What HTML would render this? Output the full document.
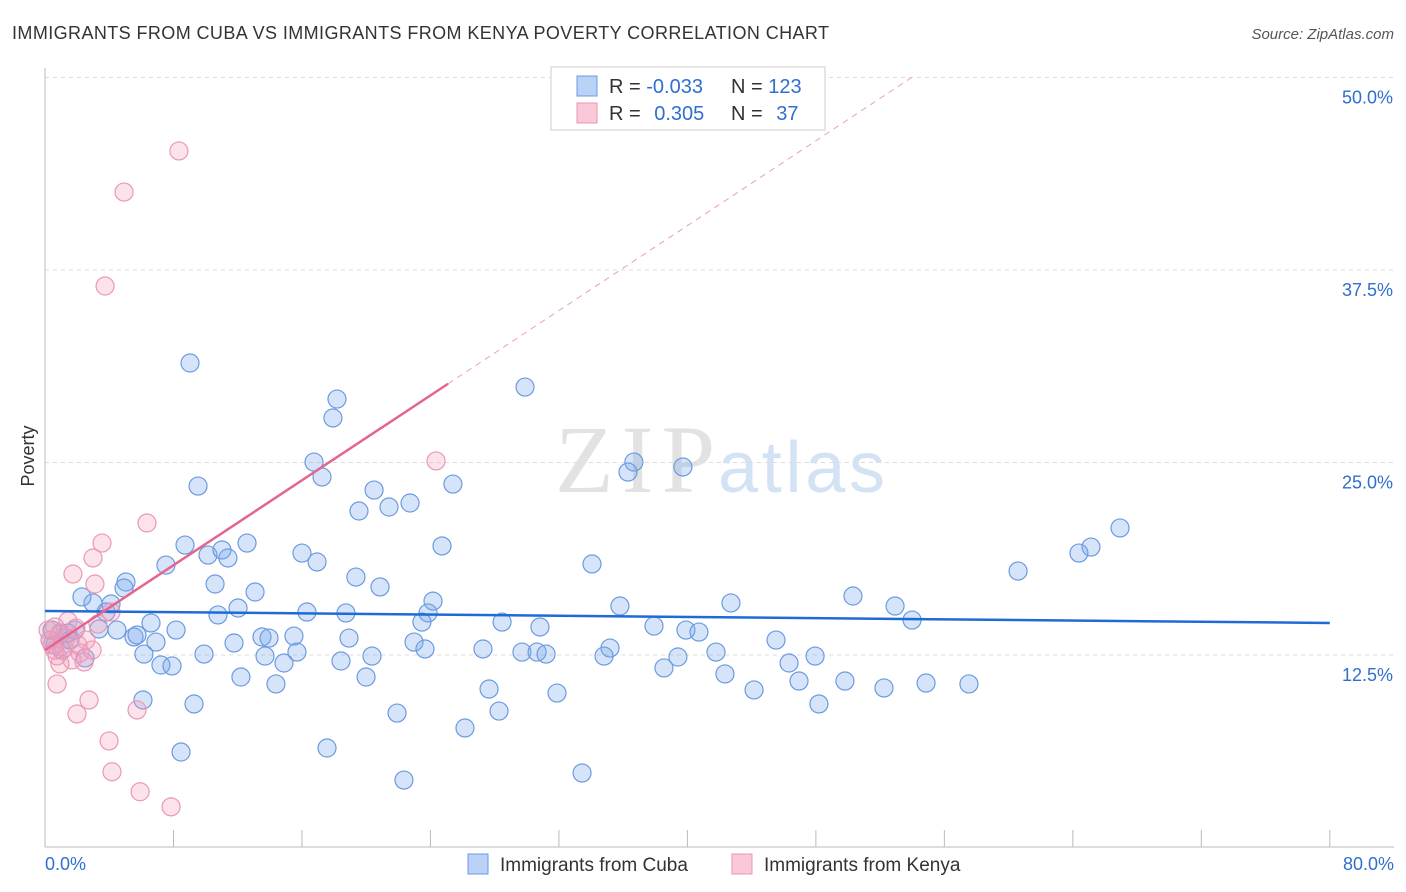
<!DOCTYPE html>
<html><head><meta charset="utf-8"><style>
body{margin:0;background:#fff;font-family:"Liberation Sans",sans-serif;}
svg{display:block}
</style></head><body>
<svg id="c" width="1406" height="892">
<text x="12" y="39" font-size="18" fill="#333" textLength="817">IMMIGRANTS FROM CUBA VS IMMIGRANTS FROM KENYA POVERTY CORRELATION CHART</text>
<text x="1394" y="39" font-size="15" fill="#555" font-style="italic" text-anchor="end">Source: ZipAtlas.com</text>
<text x="555" y="492" font-size="96" font-family="Liberation Serif,serif" fill="#e2e2e2" textLength="160">ZIP</text>
<text x="718" y="492" font-size="72" fill="#d3e2f4" textLength="167">atlas</text>
<g id="grid"></g><g id="axes"></g><g id="pts"></g><g id="lines"></g>
<text x="34" y="456" font-size="18" fill="#333" transform="rotate(-90 34 456)" text-anchor="middle">Poverty</text>
<g>
<rect x="551" y="67" width="274" height="63" fill="#fff" stroke="#ccc"/>
<rect x="577" y="76" width="20" height="20" fill="#b9d2f5" stroke="#6a9be0"/>
<rect x="577" y="103" width="20" height="20" fill="#f9c9d8" stroke="#ec94b0"/>
<text x="609" y="93" font-size="20" fill="#333">R = <tspan fill="#2e6fd0">-0.033</tspan></text>
<text x="731" y="93" font-size="20" fill="#333">N = <tspan fill="#2e6fd0">123</tspan></text>
<text x="609" y="120" font-size="20" fill="#333">R = <tspan fill="#2e6fd0" dx="8">0.305</tspan></text>
<text x="731" y="120" font-size="20" fill="#333">N = <tspan fill="#2e6fd0" dx="8">37</tspan></text>
</g>
<g>
<rect x="468" y="854" width="20" height="20" fill="#b9d2f5" stroke="#6a9be0"/>
<text x="500" y="871" font-size="19" fill="#333">Immigrants from Cuba</text>
<rect x="732" y="854" width="20" height="20" fill="#f9c9d8" stroke="#ec94b0"/>
<text x="764" y="871" font-size="19" fill="#333">Immigrants from Kenya</text>
</g>
</svg>
<script>
const yTicks=[12.5,25,37.5,50];
const yTickLabels=["12.5%","25.0%","37.5%","50.0%"];
const xTickLabels=["0.0%","80.0%"];
const cubaX=[9.03,29.89,18.18,17.93,16.75,17.25,36.67,36.3,39.72,9.53,25.4,20.49,22.73,21.42,19.55,66.94,65.13,64.38,60.59,24.72,8.72,12.58,10.15,11.02,11.39,16.0,16.94,7.53,34.06,19.36,20.86,10.59,5.04,4.92,13.08,24.16,50.31,52.93,42.71,35.8,4.11,2.99,2.3,3.8,12.02,10.77,16.31,18.74,23.85,23.47,28.46,53.99,30.82,37.92,39.91,40.72,6.6,8.16,3.36,4.48,5.54,5.73,6.91,1.43,0.93,1.87,13.51,13.95,15.5,18.93,11.77,22.98,23.66,45.52,35.18,27.27,29.7,30.64,31.2,6.16,9.9,13.7,15.69,20.36,34.81,41.78,47.95,7.22,7.91,14.88,18.43,46.33,39.41,38.54,12.2,19.99,42.34,46.95,49.81,52.24,54.86,57.53,14.38,27.65,31.88,44.15,6.1,9.28,28.27,21.92,48.19,26.15,8.47,17.56,33.44,22.35,0.31,0.62,1.06,2.49,1.56,0.44];
const cubaY=[31.46,29.9,29.12,27.89,25.03,24.06,25.03,24.38,24.71,23.47,23.6,23.21,22.37,22.11,21.85,20.75,19.51,19.12,17.95,19.58,19.64,19.77,18.99,19.32,18.8,19.12,18.54,18.34,18.41,17.56,16.92,17.11,17.24,16.85,16.59,16.0,16.33,15.68,15.88,15.68,15.81,15.88,16.27,15.29,15.55,15.1,15.29,15.23,15.23,14.64,14.64,14.77,14.32,14.38,14.12,13.99,14.58,14.12,14.19,14.12,13.67,13.8,13.34,13.93,13.86,14.12,13.67,13.6,13.73,13.6,13.28,13.34,12.89,13.47,12.95,12.89,12.69,12.69,12.56,12.56,12.56,12.43,12.69,12.43,12.43,12.69,12.43,11.85,11.79,11.98,12.11,11.98,12.37,11.66,11.07,11.07,11.27,10.81,10.81,10.36,10.68,10.62,10.62,10.29,10.03,10.23,9.58,9.32,8.86,8.73,9.32,7.76,6.2,6.46,4.84,4.38,13.47,13.15,12.82,12.31,13.47,14.12];
const kenyaX=[8.34,4.92,3.74,24.35,6.35,3.55,2.99,1.74,3.11,4.11,1.43,3.3,0.62,0.93,1.93,2.55,0.44,1.18,2.18,2.93,0.75,1.68,2.43,0.93,0.75,2.74,1.99,5.73,3.99,4.17,5.92,7.85,0.31,0.62,1.31,0.19,2.05];
const kenyaY=[45.23,42.56,36.46,25.1,21.07,19.77,18.8,17.76,17.11,15.29,14.71,14.51,14.32,13.93,14.25,13.47,13.15,12.95,12.63,12.82,12.44,12.18,12.05,11.92,10.62,9.58,8.67,8.93,6.92,4.92,3.62,2.64,13.47,12.82,13.6,14.12,13.15];
const cubaTrend=[15.36,14.58];
const kenyaTrend=[12.82,0.689];
const kenyaSolidEnd=25.1;
const NS="http://www.w3.org/2000/svg";
const X=v=>45+v*16.06, Y=v=>847.5-v*15.4;
function mk(tag,attrs,parent){const e=document.createElementNS(NS,tag);for(const k in attrs)e.setAttribute(k,attrs[k]);parent.appendChild(e);return e;}
const grid=document.getElementById('grid'),axes=document.getElementById('axes'),pts=document.getElementById('pts'),lines=document.getElementById('lines');
yTicks.forEach((t,i)=>{
 const l=mk('line',{x1:45,x2:1394,y1:Y(t),y2:Y(t),stroke:'#ddd','stroke-dasharray':'4,4'},grid);
 
 
 const tx=mk('text',{x:1393,y:Y(t)+26,'font-size':18,fill:'#2e6fd0','text-anchor':'end'},grid);
 tx.textContent=yTickLabels[i];
 
 
});
let a=mk('line',{x1:45,x2:45,y1:68,y2:847,stroke:'#bbb'},axes);


a=mk('line',{x1:45,x2:1394,y1:847,y2:847,stroke:'#bbb'},axes);


for(let i=1;i<=10;i++){const t=mk('line',{x1:X(i*8),x2:X(i*8),y1:830,y2:847,stroke:'#bbb'},axes);
 
 }
[[0,'start',45],[80,'end',1394]].forEach((d,i)=>{const t=mk('text',{x:d[2],y:870,'font-size':18,fill:'#2e6fd0','text-anchor':d[1]},axes);t.textContent=xTickLabels[i];
 
 });
cubaX.forEach((x,i)=>{const c=mk('circle',{cx:X(x),cy:Y(cubaY[i]),r:9,fill:'rgba(120,165,235,0.3)',stroke:'#6b9be0','stroke-width':1.2},pts);
 
 });
kenyaX.forEach((x,i)=>{const c=mk('circle',{cx:X(x),cy:Y(kenyaY[i]),r:9,fill:'rgba(245,160,190,0.3)',stroke:'#eb98b3','stroke-width':1.2},pts);
 
 });
let l=mk('line',{x1:X(0),y1:Y(cubaTrend[0]),x2:X(80),y2:Y(cubaTrend[1]),stroke:'#1f6bd6','stroke-width':2.5},lines);


const ky=x=>kenyaTrend[0]+kenyaTrend[1]*x;
l=mk('line',{x1:X(0),y1:Y(ky(0)),x2:X(kenyaSolidEnd),y2:Y(ky(kenyaSolidEnd)),stroke:'#e5658f','stroke-width':2.5},lines);


const xEnd=(50-kenyaTrend[0])/kenyaTrend[1];
l=mk('line',{x1:X(kenyaSolidEnd),y1:Y(ky(kenyaSolidEnd)),x2:X(xEnd),y2:Y(50),stroke:'#e8a0b8','stroke-width':1,'stroke-dasharray':'6,5'},lines);


</script>
</body></html>
